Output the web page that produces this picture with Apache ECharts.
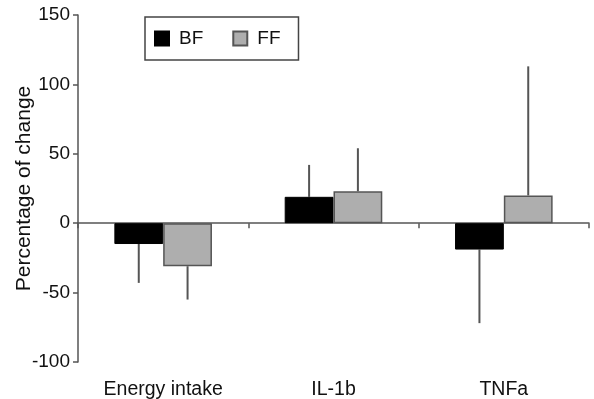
<!DOCTYPE html>
<html>
<head>
<meta charset="utf-8">
<script src="https://cdn.jsdelivr.net/npm/echarts@6/dist/echarts.min.js"></script>
<style>html,body{margin:0;padding:0;background:#fff}#c{width:594px;height:399px}</style>
</head>
<body>
<div id="c"></div>
<script>
var categories = ['Energy intake', 'IL-1b', 'TNFa'];
var bfValues = [-15, 19, -19];
var ffValues = [-31, 23, 20];
var bfErrors = [28, 23, 53];
var ffErrors = [24, 31, 93];
var yTicks = [-100, -50, 0, 50, 100, 150];

var FONT = '"Liberation Sans", Arial, sans-serif';
var chart = echarts.init(document.getElementById('c'), null, {renderer: 'canvas'});

function errData(vals, errs) {
  return vals.map(function (v, i) {
    var end = v >= 0 ? v + errs[i] : v - errs[i];
    return [i, v, end];
  });
}

var GAP = 0.427;
function errSeries(name, vals, errs, side) {
  return {
    type: 'custom',
    name: name + ' err',
    xAxisIndex: 0, yAxisIndex: 0,
    silent: true,
    z: 1,
    data: errData(vals, errs),
    encode: {x: 0, y: [1, 2]},
    renderItem: function (params, api) {
      var c0 = api.coord([api.value(0), api.value(1)]);
      var c1 = api.coord([api.value(0), api.value(2)]);
      var band = api.size([1, 0])[0];
      var bw = band * (1 - GAP) / 2;
      var x = c0[0] + side * bw / 2;
      return {
        type: 'line',
        shape: {x1: x, y1: c0[1], x2: x, y2: c1[1]},
        style: {stroke: '#555', lineWidth: 2}
      };
    }
  };
}

var gridBox = {left: 78, right: 5, top: 15, bottom: 37, containLabel: false, outerBoundsMode: 'none'};

var option = {
  animation: false,
  textStyle: {fontFamily: FONT},
  grid: [Object.assign({}, gridBox), Object.assign({}, gridBox)],
  legend: {
    left: 145, top: 17,
    data: ['BF', 'FF'],
    icon: 'rect',
    itemWidth: 14, itemHeight: 14,
    itemGap: 29,
    padding: [12, 18, 12, 9],
    borderColor: '#444', borderWidth: 1.5,
    textStyle: {fontFamily: FONT, fontSize: 19, color: '#111', padding: [0, 0, 0, 5]}
  },
  xAxis: [
    {
      gridIndex: 0, type: 'category', data: categories,
      axisLine: {show: true, onZero: true, lineStyle: {color: '#555', width: 1.5}},
      axisTick: {show: true, alignWithLabel: false, length: 5, lineStyle: {color: '#555', width: 1.5}},
      axisLabel: {show: false}
    },
    {
      gridIndex: 1, type: 'category', data: categories, position: 'bottom',
      axisLine: {show: false, onZero: false}, axisTick: {show: false},
      axisLabel: {fontFamily: FONT, fontSize: 19.5, color: '#111', margin: 18}
    }
  ],
  yAxis: [
    {
      gridIndex: 0, type: 'value', min: -100, max: 150, interval: 50,
      name: 'Percentage of change', nameLocation: 'middle', nameGap: 43,
      nameMoveOverlap: false,
      nameTextStyle: {fontFamily: FONT, fontSize: 21, color: '#111'},
      axisLine: {show: true, lineStyle: {color: '#555', width: 1.5}},
      axisTick: {show: true, length: 5, lineStyle: {color: '#555', width: 1.5}},
      axisLabel: {fontFamily: FONT, fontSize: 19, color: '#111', margin: 8,
        formatter: function (v) { return yTicks.indexOf(v) >= 0 ? String(v) : ''; }},
      splitLine: {show: false}
    },
    {
      gridIndex: 1, type: 'value', min: -100, max: 150, interval: 50, show: false
    }
  ],
  series: [
    errSeries('BF', bfValues, bfErrors, -1),
    errSeries('FF', ffValues, ffErrors, 1),
    {
      name: 'BF', type: 'bar', data: bfValues, xAxisIndex: 0, yAxisIndex: 0, z: 2,
      barGap: '0%', barCategoryGap: (GAP * 100) + '%',
      itemStyle: {color: '#000', borderColor: '#000', borderWidth: 1}
    },
    {
      name: 'FF', type: 'bar', data: ffValues, xAxisIndex: 0, yAxisIndex: 0, z: 2,
      itemStyle: {color: '#aeaeae', borderColor: '#555', borderWidth: 1.5}
    }
  ]
};
chart.setOption(option);
</script>
</body>
</html>
